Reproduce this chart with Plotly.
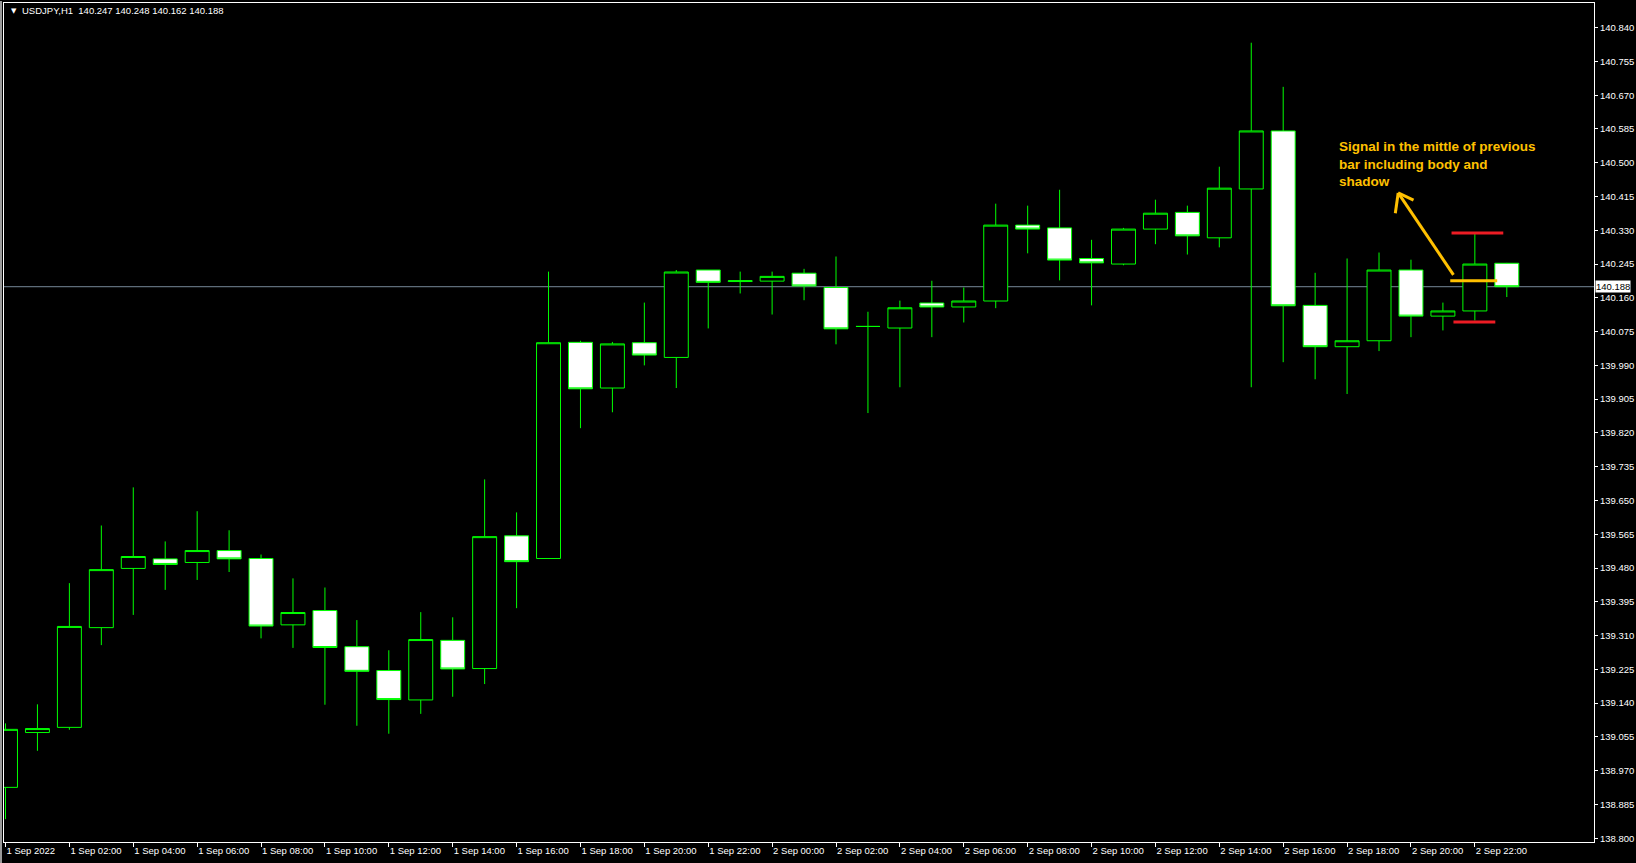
import plotly.graph_objects as go

# ---- data (USDJPY H1, 1 Sep 2022 00:00 .. 2 Sep 2022 23:00) ----
bar_index = list(range(48))

opens = [138.928, 139.066, 139.079, 139.330, 139.479, 139.503, 139.494, 139.524,
         139.504, 139.337, 139.373, 139.282, 139.222, 139.148, 139.298, 139.227,
         139.561, 139.504, 140.048, 139.933, 140.047, 140.010, 140.230, 140.201,
         140.202, 140.222, 140.186, 140.088, 140.084, 140.147, 140.137, 140.152,
         140.343, 140.336, 140.259, 140.245, 140.333, 140.375, 140.311, 140.434,
         140.580, 140.141, 140.037, 140.052, 140.230, 140.114, 140.127, 140.247]
highs = [139.089, 139.137, 139.442, 139.587, 139.683, 139.547, 139.623, 139.575,
         139.514, 139.454, 139.431, 139.349, 139.273, 139.369, 139.356, 139.703,
         139.620, 140.226, 140.052, 140.049, 140.148, 140.230, 140.230, 140.226,
         140.226, 140.233, 140.264, 140.125, 140.153, 140.203, 140.186, 140.397,
         140.392, 140.432, 140.306, 140.336, 140.407, 140.392, 140.490, 140.802,
         140.691, 140.223, 140.259, 140.274, 140.256, 140.148, 140.321, 140.248]
lows = [138.848, 139.020, 139.073, 139.286, 139.362, 139.425, 139.450, 139.470,
        139.303, 139.279, 139.136, 139.083, 139.063, 139.113, 139.156, 139.188,
        139.379, 139.504, 139.832, 139.872, 139.990, 139.933, 140.083, 140.171,
        140.118, 140.154, 140.043, 139.870, 139.935, 140.061, 140.098, 140.134,
        140.272, 140.204, 140.141, 140.242, 140.295, 140.269, 140.287, 139.935,
        139.998, 139.955, 139.918, 140.026, 140.061, 140.078, 140.103, 140.162]
closes = [139.074, 139.076, 139.333, 139.476, 139.509, 139.489, 139.524, 139.503,
          139.334, 139.368, 139.280, 139.220, 139.149, 139.300, 139.226, 139.559,
          139.496, 140.047, 139.931, 140.044, 140.016, 140.225, 140.199, 140.203,
          140.214, 140.190, 140.082, 140.088, 140.135, 140.137, 140.152, 140.343,
          140.333, 140.255, 140.248, 140.333, 140.373, 140.316, 140.436, 140.580,
          140.140, 140.037, 140.052, 140.230, 140.114, 140.127, 140.245, 140.188]

x_tick_bars = list(range(0, 48, 2))
x_tick_labels = ["1 Sep 2022", "1 Sep 02:00", "1 Sep 04:00", "1 Sep 06:00", "1 Sep 08:00",
                 "1 Sep 10:00", "1 Sep 12:00", "1 Sep 14:00", "1 Sep 16:00", "1 Sep 18:00",
                 "1 Sep 20:00", "1 Sep 22:00", "2 Sep 00:00", "2 Sep 02:00", "2 Sep 04:00",
                 "2 Sep 06:00", "2 Sep 08:00", "2 Sep 10:00", "2 Sep 12:00", "2 Sep 14:00",
                 "2 Sep 16:00", "2 Sep 18:00", "2 Sep 20:00", "2 Sep 22:00"]
y_tick_labels = ["138.800", "138.885", "138.970", "139.055", "139.140", "139.225", "139.310",
                 "139.395", "139.480", "139.565", "139.650", "139.735", "139.820", "139.905",
                 "139.990", "140.075", "140.160", "140.245", "140.330", "140.415", "140.500",
                 "140.585", "140.670", "140.755", "140.840"]

current_price = 140.188
title_text = "USDJPY,H1\u00a0\u00a0140.247 140.248 140.162 140.188"
signal_bar = 46
signal_high = 140.323
signal_low = 140.099
signal_mid = 140.203
note_lines = ["Signal in the mittle of previous", "bar including body and", "shadow"]

GREEN = "#00FF00"
GOLD = "#FFC000"
RED = "#ED1C24"
FONT = "Liberation Sans, Arial, sans-serif"

fig = go.Figure()
fig.add_trace(go.Candlestick(
    x=bar_index, open=opens, high=highs, low=lows, close=closes,
    increasing=dict(fillcolor="#000000", line=dict(color=GREEN, width=1)),
    decreasing=dict(fillcolor="#FFFFFF", line=dict(color=GREEN, width=1)),
    whiskerwidth=0, hoverinfo="skip", showlegend=False,
))

shapes = []
# current price line (behind candles)
shapes.append(dict(type="line", xref="paper", yref="y", x0=0, x1=1,
                   y0=current_price, y1=current_price, layer="below",
                   line=dict(color="#778899", width=1)))
# left window edge
shapes.append(dict(type="rect", xref="paper", yref="paper", x0=-4 / 1593, x1=-2 / 1593,
                   y0=-21 / 840, y1=1 + 2 / 840, line=dict(width=0), fillcolor="#9A9A9A"))
# signal marks on bar 46
shapes.append(dict(type="line", xref="x", yref="y", x0=signal_bar - 0.73, x1=signal_bar + 0.89,
                   y0=signal_high, y1=signal_high, line=dict(color=RED, width=3)))
shapes.append(dict(type="line", xref="x", yref="y", x0=signal_bar - 0.67, x1=signal_bar + 0.64,
                   y0=signal_low, y1=signal_low, line=dict(color=RED, width=3)))
shapes.append(dict(type="line", xref="x", yref="y", x0=signal_bar - 0.77, x1=signal_bar + 0.70,
                   y0=signal_mid, y1=signal_mid, line=dict(color=GOLD, width=3)))
# hand-drawn arrow pointing to the note
tip = (43.60, 140.424)
shapes.append(dict(type="line", xref="x", yref="y", x0=45.33, y0=140.218, x1=tip[0], y1=tip[1],
                   line=dict(color=GOLD, width=3)))
shapes.append(dict(type="line", xref="x", yref="y", x0=tip[0], y0=tip[1], x1=43.51, y1=140.373,
                   line=dict(color=GOLD, width=3)))
shapes.append(dict(type="line", xref="x", yref="y", x0=tip[0], y0=tip[1], x1=44.08, y1=140.406,
                   line=dict(color=GOLD, width=3)))

annotations = []
annotations.append(dict(xref="x", yref="y", x=41.67, y=140.565, xanchor="left", yanchor="top",
                        align="left", showarrow=False,
                        text="<br>".join("<b>%s</b>" % s for s in note_lines),
                        font=dict(family=FONT, size=13.5, color=GOLD)))
annotations.append(dict(xref="paper", yref="y", x=1, y=current_price, xanchor="left",
                        yanchor="middle", showarrow=False, text=f"{current_price:.3f}",
                        bgcolor="#FFFFFF", borderpad=0, xshift=1,
                        font=dict(family=FONT, size=9.5, color="#000000")))
annotations.append(dict(xref="paper", yref="paper", x=(9 - 4) / 1593, y=(842 - 10) / 840,
                        xanchor="left", yanchor="middle", showarrow=False, text="\u25BC",
                        font=dict(family="DejaVu Sans", size=7, color="#FFFFFF")))
annotations.append(dict(xref="paper", yref="paper", x=(20 - 4) / 1593, y=(842 - 10) / 840,
                        xanchor="left", yanchor="middle", showarrow=False, text=title_text,
                        font=dict(family=FONT, size=9.5, color="#FFFFFF")))

fig.update_layout(
    width=1636, height=863,
    margin=dict(l=4, r=39, t=2, b=21, pad=0),
    paper_bgcolor="#000000", plot_bgcolor="#000000",
    showlegend=False, boxgap=0.25, boxgroupgap=0, hovermode=False,
    shapes=shapes, annotations=annotations,
    xaxis=dict(range=[-0.047, 49.73], rangeslider=dict(visible=False),
               tickmode="array", tickvals=x_tick_bars, ticktext=x_tick_labels,
               ticks="outside", ticklen=4, tickcolor="#FFFFFF", tickwidth=1,
               ticklabelposition="outside right",
               showgrid=False, zeroline=False, showline=True, mirror=True,
               linecolor="#FFFFFF", linewidth=1,
               tickfont=dict(family=FONT, size=9.5, color="#FFFFFF")),
    yaxis=dict(range=[138.7905, 140.902], side="right",
               tickmode="array", tickvals=[float(v) for v in y_tick_labels], ticktext=y_tick_labels,
               ticks="outside", ticklen=3, tickcolor="#FFFFFF", tickwidth=1,
               showgrid=False, zeroline=False, showline=True, mirror=True,
               linecolor="#FFFFFF", linewidth=1,
               tickfont=dict(family=FONT, size=9.5, color="#FFFFFF")),
)

fig.write_html(
    "out.html",
    config={"displayModeBar": False},
    post_script="document.body.style.margin='0';document.body.style.overflow='hidden';"
                "document.body.style.background='#000000';",
)
